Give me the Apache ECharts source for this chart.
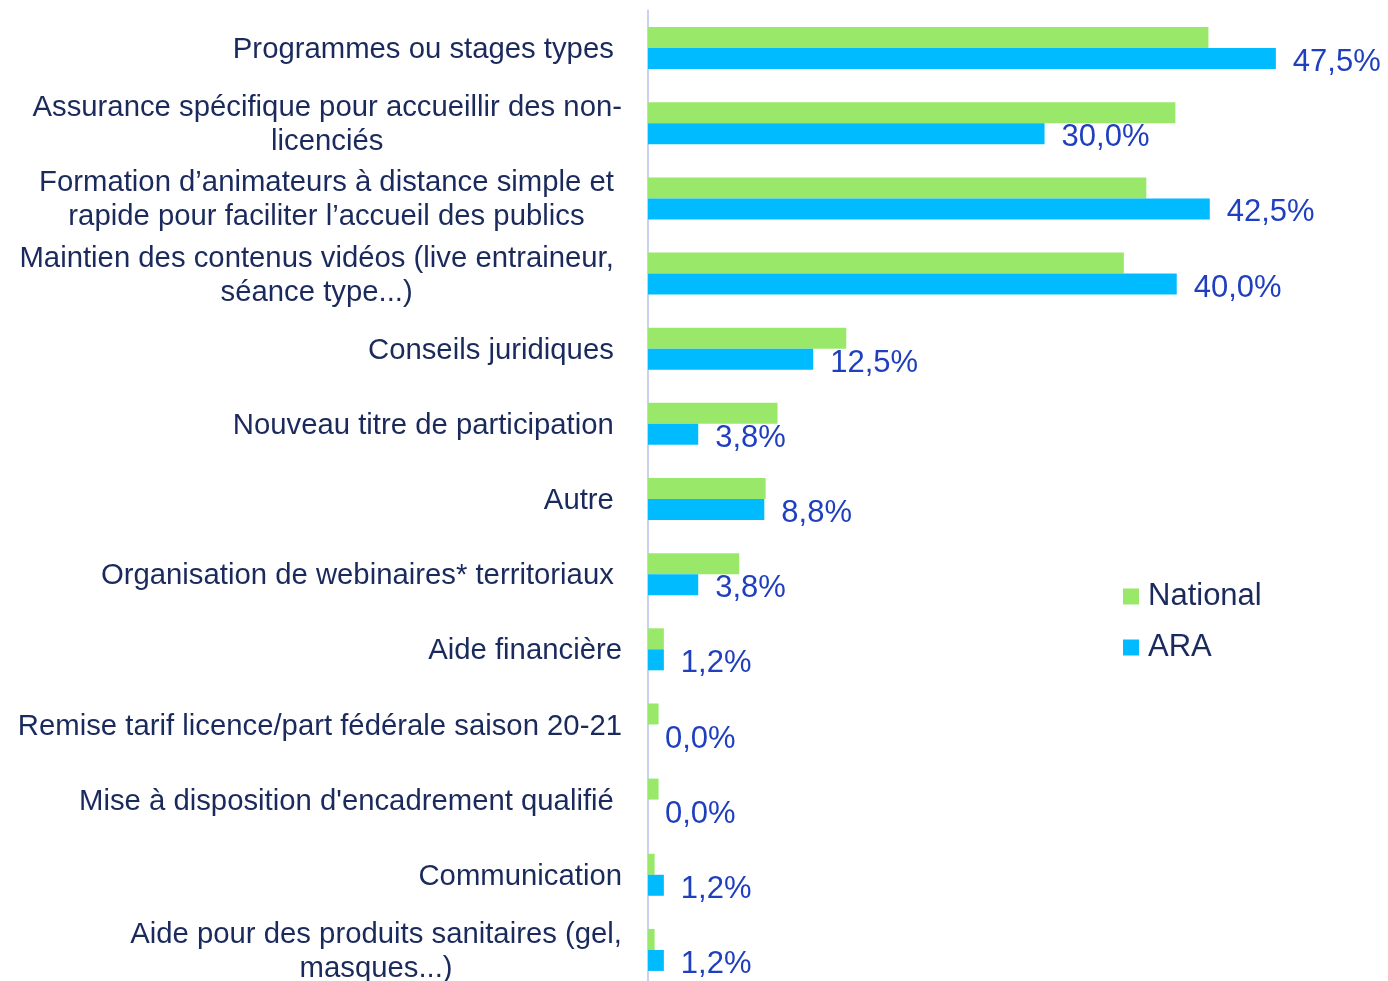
<!DOCTYPE html>
<html>
<head>
<meta charset="utf-8">
<script src="https://cdn.jsdelivr.net/npm/echarts@6/dist/echarts.min.js"></script>
<style>
  html, body { margin: 0; padding: 0; background: #fff; overflow: hidden; }
  #chart { width: 1388px; height: 990px; }
</style>
</head>
<body>
<div id="chart"></div>
<script>
// categories (top to bottom)
var categories = [
  'Programmes ou stages types ',
  'Assurance spécifique pour accueillir des non-\nlicenciés',
  ' Formation d’animateurs à distance simple et \nrapide pour faciliter l’accueil des publics',
  'Maintien des contenus vidéos (live entraineur, \nséance type...) ',
  'Conseils juridiques ',
  'Nouveau titre de participation ',
  'Autre ',
  'Organisation de webinaires* territoriaux ',
  'Aide financière',
  'Remise tarif licence/part fédérale saison 20-21',
  "Mise à disposition d'encadrement qualifié ",
  'Communication',
  'Aide pour des produits sanitaires (gel,\nmasques...)'
];
var nationalValues = [42.4, 39.9, 37.7, 36.0, 15.0, 9.8, 8.9, 6.9, 1.2, 0.8, 0.8, 0.5, 0.5];
var araValues = [47.5, 30.0, 42.5, 40.0, 12.5, 3.8, 8.8, 3.8, 1.2, 0.0, 0.0, 1.2, 1.2];

var textColor = '#1b2a5c';
var font = 'Liberation Sans, Arial, sans-serif';

var myChart = echarts.init(document.getElementById('chart'));
var option = {
  animation: false,
  textStyle: { fontFamily: font },
  grid: {
    left: 648,
    right: 13,
    top: 10.5,
    bottom: 2.5,
    containLabel: false
  },
  legend: {
    orient: 'vertical',
    left: 1123,
    top: 581,
    padding: 0,
    itemWidth: 16,
    itemHeight: 16,
    itemGap: 20,
    icon: 'rect',
    textStyle: {
      color: textColor,
      fontSize: 31,
      fontFamily: font,
      padding: [0, 0, 0, 4]
    },
    data: ['National', 'ARA']
  },
  xAxis: {
    type: 'value',
    min: 0,
    max: 55,
    show: false
  },
  yAxis: {
    type: 'category',
    inverse: true,
    data: categories,
    axisTick: { show: false },
    axisLine: {
      show: true,
      lineStyle: { color: '#c9d1f2', width: 2 }
    },
    axisLabel: {
      margin: 26,
      formatter: function(v) {
        return v.split('\n').map(function(l) { return '{c|' + l + '}'; }).join('\n');
      },
      rich: {
        c: {
          align: 'center',
          fontSize: 29.3,
          lineHeight: 34,
          padding: [4, 0, 0, 0],
          color: textColor,
          fontFamily: font
        }
      }
    }
  },
  series: [{
    name: 'National',
    type: 'bar',
    barWidth: 21,
    barGap: '0%',
    itemStyle: { color: '#9ae86a' },
    data: nationalValues
  }, {
    name: 'ARA',
    type: 'bar',
    barWidth: 21,
    barGap: '0%',
    itemStyle: { color: '#00bbff' },
    label: {
      show: true,
      position: 'right',
      distance: 17,
      fontSize: 31,
      color: '#1f3fbf',
      fontFamily: font,
      offset: [0, 4],
      formatter: function(p) {
        return p.value.toFixed(1).replace('.', ',') + '%';
      }
    },
    data: araValues
  }]
};
myChart.setOption(option);
</script>
</body>
</html>
